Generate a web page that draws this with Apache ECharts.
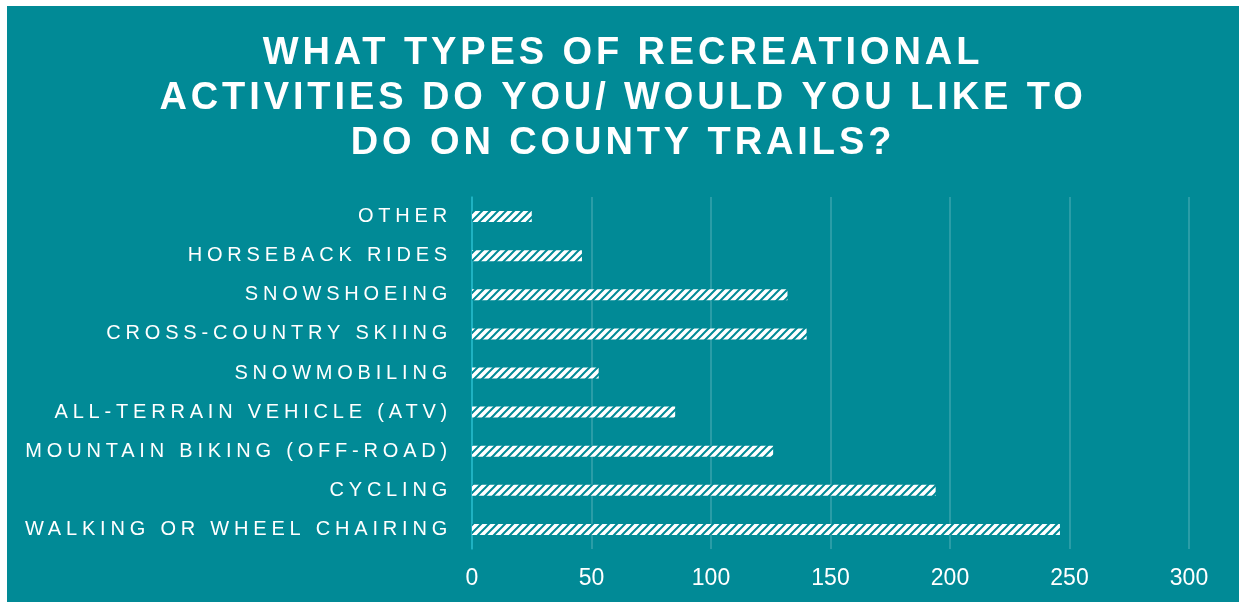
<!DOCTYPE html>
<html>
<head>
<meta charset="utf-8">
<script src="https://cdn.jsdelivr.net/npm/echarts@6/dist/echarts.min.js"></script>
<style>
  html, body { margin: 0; padding: 0; background: #ffffff; }
  #chart { position: absolute; left: 7px; top: 6px; width: 1232px; height: 596px; }
</style>
</head>
<body>
<div id="chart"></div>
<script>
// Survey responses, listed bottom-to-top as drawn on the category axis
const activities = [
  'WALKING OR WHEEL CHAIRING',
  'CYCLING',
  'MOUNTAIN BIKING (OFF-ROAD)',
  'ALL-TERRAIN VEHICLE (ATV)',
  'SNOWMOBILING',
  'CROSS-COUNTRY SKIING',
  'SNOWSHOEING',
  'HORSEBACK RIDES',
  'OTHER'
];
const responses = [246, 194, 126, 85, 53, 140, 132, 46, 25];
const valueTicks = [0, 50, 100, 150, 200, 250, 300];

const TEAL = '#018a96';

// Letter-spaced text: spacing chosen per font size
const baseFillText = CanvasRenderingContext2D.prototype.fillText;
CanvasRenderingContext2D.prototype.fillText = function (t, x, y, w) {
  const f = this.font || '';
  if (/bold/.test(f)) this.letterSpacing = '3.9px';
  else if (/20px/.test(f)) this.letterSpacing = '4.8px';
  else this.letterSpacing = '0px';
  const r = w === undefined ? baseFillText.call(this, t, x, y) : baseFillText.call(this, t, x, y, w);
  this.letterSpacing = '0px';
  return r;
};

// Hatched fill for the bars: white with teal forward diagonals
function hatch() {
  const c = document.createElement('canvas');
  c.width = 8; c.height = 8;
  const g = c.getContext('2d');
  g.fillStyle = '#ffffff';
  g.fillRect(0, 0, 8, 8);
  g.strokeStyle = TEAL;
  g.lineWidth = 2;
  g.beginPath();
  g.moveTo(-2, 10); g.lineTo(10, -2);
  g.moveTo(-6, 6); g.lineTo(6, -6);
  g.moveTo(2, 14); g.lineTo(14, 2);
  g.stroke();
  return c;
}

const chart = echarts.init(document.getElementById('chart'), null, { renderer: 'canvas' });
chart.setOption({
  backgroundColor: TEAL,
  animation: false,
  title: {
    text: 'WHAT TYPES OF RECREATIONAL\nACTIVITIES DO YOU/ WOULD YOU LIKE TO\nDO ON COUNTY TRAILS?',
    left: 'center',
    top: 20,
    textStyle: {
      color: '#ffffff',
      fontFamily: 'Liberation Sans, Arial, sans-serif',
      fontWeight: 'bold',
      fontSize: 38,
      lineHeight: 45
    }
  },
  grid: { left: 465, right: 50, top: 191, bottom: 53 },
  xAxis: {
    type: 'value',
    min: valueTicks[0],
    max: valueTicks[valueTicks.length - 1],
    interval: valueTicks[1] - valueTicks[0],
    axisLine: { show: false },
    axisTick: { show: false },
    axisLabel: {
      color: '#ffffff',
      fontFamily: 'Liberation Sans, Arial, sans-serif',
      fontSize: 23,
      margin: 18
    },
    splitLine: { lineStyle: { color: 'rgba(255,255,255,0.22)', width: 1.5 } }
  },
  yAxis: {
    type: 'category',
    data: activities,
    axisLine: { show: true, lineStyle: { color: '#1cbacb', width: 1.5 } },
    axisTick: { show: false },
    axisLabel: {
      color: '#ffffff',
      fontFamily: 'Liberation Sans, Arial, sans-serif',
      fontSize: 20,
      margin: 20,
      padding: [2, 0, 0, 0]
    }
  },
  series: [{
    type: 'bar',
    data: responses,
    barWidth: 11,
    itemStyle: { color: { image: hatch(), repeat: 'repeat' } }
  }]
});
</script>
</body>
</html>
